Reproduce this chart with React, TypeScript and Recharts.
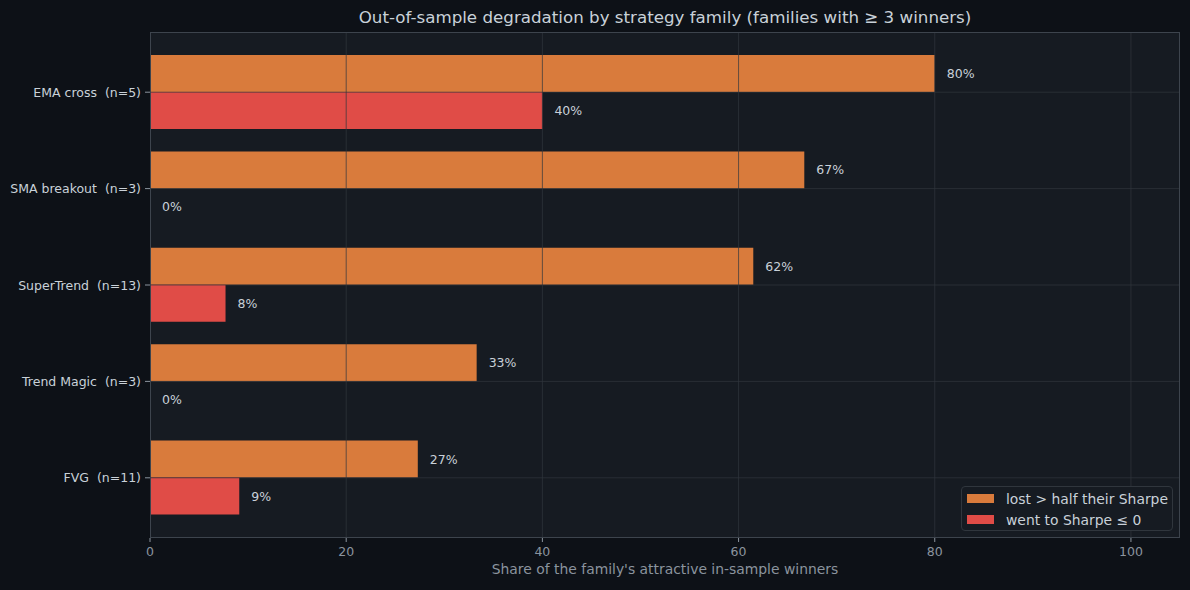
import React from 'react'
import {
  BarChart, Bar, XAxis, YAxis, CartesianGrid,
  LabelList, ReferenceLine
} from 'recharts'

const families = [
  'EMA cross  (n=5)',
  'SMA breakout  (n=3)',
  'SuperTrend  (n=13)',
  'Trend Magic  (n=3)',
  'FVG  (n=11)',
]
// share of winners (%) per family
const lostHalf = [80, 66.7, 61.5, 33.3, 27.3]
const wentNegative = [40, 0, 7.7, 0, 9.1]
const xTicks = [0, 20, 40, 60, 80, 100]

const FONT = '"DejaVu Sans", sans-serif'
const ORANGE = '#d97b3c'
const RED = '#e04c47'
const GRID = 'rgba(48, 54, 61, 0.7)'
const SPINE = '#3d444d'
const SMALL = 12.5

const rows = families.map((name, i) => ({
  name,
  lost: lostHalf[i],
  neg: wentNegative[i],
}))

// value label just past the bar end (also for zero-width bars)
const ValueLabel = (props: any) => {
  const { x, y, width, height, value } = props
  const v = Array.isArray(value) ? value[1] : value
  if (v == null) return null
  return (
    <text
      x={Number(x) + Number(width || 0) + 12}
      y={Number(y) + Number(height) / 2}
      dominantBaseline="central"
      fill="#c9d1d9"
      fontSize={SMALL}
      fontFamily={FONT}
    >
      {`${Math.round(Number(v))}%`}
    </text>
  )
}

const FamilyTick = (props: any) => {
  const { x, y, payload } = props
  return (
    <text
      x={x}
      y={y}
      textAnchor="end"
      dominantBaseline="central"
      fill="#c9d1d9"
      fontSize={SMALL}
      fontFamily={FONT}
      xmlSpace="preserve"
      style={{ whiteSpace: 'pre' }}
    >
      {payload.value}
    </text>
  )
}

const legendItems = [
  { label: 'lost > half their Sharpe', color: ORANGE },
  { label: 'went to Sharpe \u2264 0', color: RED },
]

const LegendBox = () => (
  <div
    style={{
      position: 'absolute',
      left: 961,
      top: 486,
      boxSizing: 'border-box',
      width: 212,
      height: 45,
      background: '#161b22',
      border: '1px solid #30363d',
      borderRadius: 4,
      padding: '1px 5px',
      fontSize: 13.9,
      color: '#c9d1d9',
    }}
  >
    {legendItems.map((e) => (
      <div key={e.label} style={{ display: 'flex', alignItems: 'center', height: 21 }}>
        <span style={{ width: 27, height: 9, background: e.color, marginRight: 12, flexShrink: 0 }} />
        <span style={{ whiteSpace: 'nowrap' }}>{e.label}</span>
      </div>
    ))}
  </div>
)

export default function App() {
  return (
    <div
      style={{
        position: 'absolute',
        left: 0,
        top: 0,
        width: 1190,
        height: 590,
        background: '#0d1117',
        fontFamily: FONT,
      }}
    >
      <div
        style={{
          position: 'absolute',
          left: 150,
          width: 1030,
          top: 7,
          textAlign: 'center',
          fontSize: 16.7,
          color: '#c9d1d9',
        }}
      >
        Out-of-sample degradation by strategy family (families with ≥ 3 winners)
      </div>
      <BarChart
        width={1190}
        height={590}
        data={rows}
        layout="vertical"
        margin={{ top: 32, right: 10, bottom: 22, left: 0 }}
        barSize={37}
        barGap={0}
      >
        <CartesianGrid fill="#161b22" stroke="none" />
        <XAxis
          type="number"
          domain={[0, 105]}
          ticks={xTicks}
          allowDataOverflow
          tick={{ fontSize: SMALL, fill: '#8b949e', fontFamily: FONT }}
          tickSize={4}
          tickMargin={5}
          axisLine={false}
          tickLine={{ stroke: '#8b949e' }}
          label={{
            value: "Share of the family's attractive in-sample winners",
            position: 'insideBottom',
            offset: -6,
            fill: '#8b949e',
            fontSize: 13.9,
            fontFamily: FONT,
          }}
        />
        <YAxis
          type="category"
          dataKey="name"
          width={150}
          padding={{ top: 12, bottom: 12 }}
          tick={<FamilyTick />}
          tickSize={5}
          tickMargin={4}
          axisLine={false}
          tickLine={{ stroke: '#8b949e' }}
        />
        {/* tiny minPointSize keeps zero-value bars (and their labels) in the layout */}
        <Bar dataKey="lost" fill={ORANGE} minPointSize={0.01} isAnimationActive={false}>
          <LabelList dataKey="lost" content={<ValueLabel />} />
        </Bar>
        <Bar dataKey="neg" fill={RED} minPointSize={0.01} isAnimationActive={false}>
          <LabelList dataKey="neg" content={<ValueLabel />} />
        </Bar>
        {/* grid drawn over the bars */}
        {xTicks.slice(1).map((t) => (
          <ReferenceLine key={`x${t}`} x={t} stroke={GRID} strokeWidth={1} />
        ))}
        {families.map((f) => (
          <ReferenceLine key={f} y={f} stroke={GRID} strokeWidth={1} />
        ))}
      </BarChart>
      {/* plot frame */}
      <div
        style={{
          position: 'absolute',
          left: 150,
          top: 32,
          width: 1030,
          height: 506,
          boxSizing: 'border-box',
          border: `1px solid ${SPINE}`,
          pointerEvents: 'none',
        }}
      />
      <LegendBox />
    </div>
  )
}
